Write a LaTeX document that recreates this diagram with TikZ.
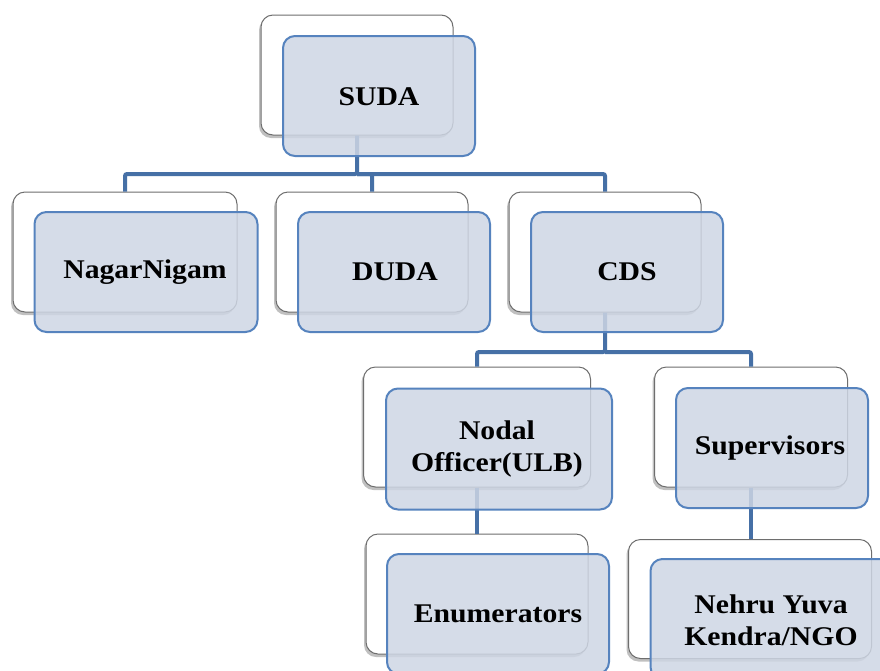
\documentclass[tikz,border=0pt]{standalone}
\usepackage{fontspec}
\setmainfont{Liberation Serif}[FakeStretch=1.1]
\usetikzlibrary{shadows}
\definecolor{frontfill}{HTML}{CED6E4}
\definecolor{frontline}{HTML}{5683BE}
\definecolor{connline}{HTML}{4670A6}
\definecolor{backline}{HTML}{6E6E6E}
\tikzset{
  backbox/.style={draw=backline, line width=1pt, fill=white, rounded corners=12pt,
    inner sep=0pt, drop shadow={shadow xshift=-2pt, shadow yshift=-3pt, opacity=0.35, fill=black!70}},
  frontbox/.style={draw=frontline, line width=2pt, fill=frontfill, fill opacity=0.85,
    text opacity=1, rounded corners=12pt, inner sep=0pt, align=center},
  lbl/.style={font=\bfseries\fontsize{27}{32}\selectfont, align=center, inner sep=0pt},
  conn/.style={draw=connline, line width=4pt, rounded corners=2pt}
}
\begin{document}
\begin{tikzpicture}[x=1pt,y=-1pt]
\useasboundingbox (0,0) rectangle (880,670);
\clip (0,0) rectangle (880,670);
\fill[white] (0,0) rectangle (880,670);
% back boxes
\node[backbox, minimum width=192pt, minimum height=120pt] (sudaB) at (357,75) {};
\node[backbox, minimum width=224pt, minimum height=120pt] (ngB) at (125,252) {};
\node[backbox, minimum width=192pt, minimum height=120pt] (dudaB) at (372,252) {};
\node[backbox, minimum width=192pt, minimum height=120pt] (cdsB) at (605,252) {};
\node[backbox, minimum width=227pt, minimum height=120pt] (nodB) at (477,427) {};
\node[backbox, minimum width=193pt, minimum height=120pt] (supB) at (751,427) {};
\node[backbox, minimum width=222pt, minimum height=120pt] (enuB) at (477,594) {};
\node[backbox, minimum width=243pt, minimum height=119pt] (nyB) at (750,599) {};
% connectors
\coordinate (j1) at (357,174);
\coordinate (j2) at (605,352);
\draw[conn] (sudaB.south) -- (j1) -| (ngB.north);
\draw[conn] (j1) -| (dudaB.north);
\draw[conn] (j1) -| (cdsB.north);
\draw[conn] (cdsB.south) -- (j2) -| (nodB.north);
\draw[conn] (j2) -| (supB.north);
\draw[conn] (nodB.south) -- (enuB.north);
\draw[conn] (supB.south) -- (supB.south |- nyB.north);
% front boxes
\node[frontbox, minimum width=192pt, minimum height=120pt] (sudaF) at (379,96) {};
\node[frontbox, minimum width=223pt, minimum height=120pt] (ngF) at (146,272) {};
\node[frontbox, minimum width=192pt, minimum height=120pt] (dudaF) at (394,272) {};
\node[frontbox, minimum width=192pt, minimum height=120pt] (cdsF) at (627,272) {};
\node[frontbox, minimum width=226pt, minimum height=121pt] (nodF) at (499,449) {};
\node[frontbox, minimum width=192pt, minimum height=120pt] (supF) at (772,448) {};
\node[frontbox, minimum width=222pt, minimum height=120pt] (enuF) at (498,614) {};
\node[frontbox, minimum width=243pt, minimum height=120pt] (nyF) at (772,619) {};
% labels
\node[lbl] (sudaT) at (379,97) {SUDA};
\node[lbl] (ngT) at (145,272) {NagarNigam};
\node[lbl] (dudaT) at (395,272) {DUDA};
\node[lbl] (cdsT) at (627,272) {CDS};
\node[lbl] (nodT) at (497,449) {Nodal\\Officer(ULB)};
\node[lbl] (supT) at (770,448) {Supervisors};
\node[lbl] (enuT) at (498,614) {Enumerators};
\node[lbl] (nyT) at (771,620) {Nehru Yuva\\Kendra/NGO};
\end{tikzpicture}
\end{document}
